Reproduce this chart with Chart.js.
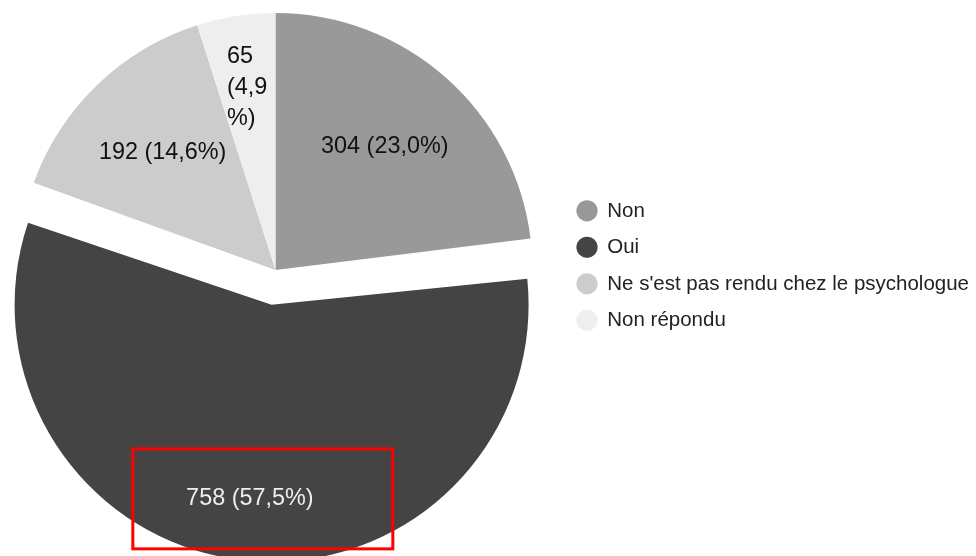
<!DOCTYPE html>
<html>
<head>
<meta charset="utf-8">
<script src="https://cdn.jsdelivr.net/npm/chart.js@4.4.0/dist/chart.umd.min.js"></script>
<style>
  body { margin: 0; background: #fff; }
  #wrap { width: 976px; height: 556px; overflow: hidden; }
  #pieChart { margin-left: -10px; display: block; }
</style>
</head>
<body>
<div id="wrap"><canvas id="pieChart" width="986" height="556"></canvas></div>
<script>
const labels = ['Non', 'Oui', "Ne s'est pas rendu chez le psychologue", 'Non répondu'];
const counts = [304, 758, 192, 65];
const colors = ['#999999', '#444444', '#cccccc', '#eeeeee'];

const FONT = '"Liberation Sans", Arial, Helvetica, sans-serif';
const total = counts.reduce((a, b) => a + b, 0);

function pctLabel(v) {
  return v + ' (' + (v / total * 100).toFixed(1).replace('.', ',') + '%)';
}

// break text into lines no wider than maxW (words first, then characters)
function wrapText(ctx, text, maxW) {
  if (!maxW || ctx.measureText(text).width <= maxW) return [text];
  const lines = [];
  let cur = '';
  text.split(' ').forEach(word => {
    const test = cur ? cur + ' ' + word : word;
    if (ctx.measureText(test).width <= maxW) { cur = test; return; }
    if (cur) lines.push(cur);
    cur = '';
    for (const ch of word) {
      if (ctx.measureText(cur + ch).width > maxW && cur) { lines.push(cur); cur = ch; }
      else cur += ch;
    }
  });
  if (cur) lines.push(cur);
  return lines;
}

// chart.js grows an offset arc's radius by offset/4 when it spans > 180deg;
// pull it back so the exploded slice keeps the same radius as the others
function arcFix(arc) {
  const circ = arc.endAngle - arc.startAngle;
  return 1 - Math.sin(Math.min(Math.PI, circ));
}
const keepRadius = {
  id: 'keepRadius',
  afterDatasetsUpdate(chart) {
    chart.getDatasetMeta(0).data.forEach(arc => {
      const off = (arc.options.offset || 0) / 4;
      arc.outerRadius -= off * arcFix(arc);
    });
  }
};

// slice labels + red box round the "Oui" label
const sliceLabels = {
  id: 'sliceLabels',
  afterDatasetsDraw(chart) {
    const ctx = chart.ctx;
    const meta = chart.getDatasetMeta(0);
    const radiusFactor = [0.642, 0.758, 0.633, 0.717];
    const maxWidths = [0, 0, 0, 45];
    const textColors = ['#111', '#eeeeee', '#111', '#111'];
    ctx.save();
    ctx.font = '23.4px ' + FONT;
    ctx.textBaseline = 'middle';
    meta.data.forEach((arc, i) => {
      const mid = (arc.startAngle + arc.endAngle) / 2;
      const off = (arc.options.offset || 0) / 4;
      const R = arc.outerRadius + off * arcFix(arc);
      const r = R * radiusFactor[i] + off;
      const x = arc.x + Math.cos(mid) * r;
      const y = arc.y + Math.sin(mid) * r;
      const lines = wrapText(ctx, pctLabel(counts[i]), maxWidths[i]);
      const lh = 31;
      ctx.fillStyle = textColors[i];
      if (lines.length === 1) {
        ctx.textAlign = 'center';
        ctx.fillText(lines[0], x, y);
      } else {
        const w = Math.max(...lines.map(l => ctx.measureText(l).width));
        ctx.textAlign = 'left';
        lines.forEach((l, k) => {
          ctx.fillText(l, x - w / 2, y + (k - (lines.length - 1) / 2) * lh);
        });
      }
      if (i === 1) {
        ctx.strokeStyle = '#ff0000';
        ctx.lineWidth = 3;
        ctx.strokeRect(x - 117, y - 49.5, 260, 100);
      }
    });
    ctx.restore();
  }
};

const ctx = document.getElementById('pieChart').getContext('2d');
const pieChart = new Chart(ctx, {
  type: 'pie',
  data: {
    labels: labels,
    datasets: [{
      data: counts,
      backgroundColor: colors,
      borderWidth: 0,
      offset: [0, 140, 0, 0]
    }]
  },
  options: {
    responsive: false,
    animation: false,
    radius: 257,
    layout: { padding: { left: 0, right: -3, top: 0, bottom: 16 } },
    plugins: {
      tooltip: { enabled: false },
      legend: {
        position: 'right',
        // empty title with negative padding lifts the items a few pixels
        title: { display: true, text: '', padding: { top: -5, bottom: -5 }, font: { size: 1 } },
        labels: {
          usePointStyle: true,
          pointStyle: 'circle',
          boxWidth: 20,
          boxHeight: 15,
          padding: 16,
          color: '#222',
          font: { family: FONT, size: 20.5 }
        }
      }
    }
  },
  plugins: [keepRadius, sliceLabels]
});
</script>
</body>
</html>
